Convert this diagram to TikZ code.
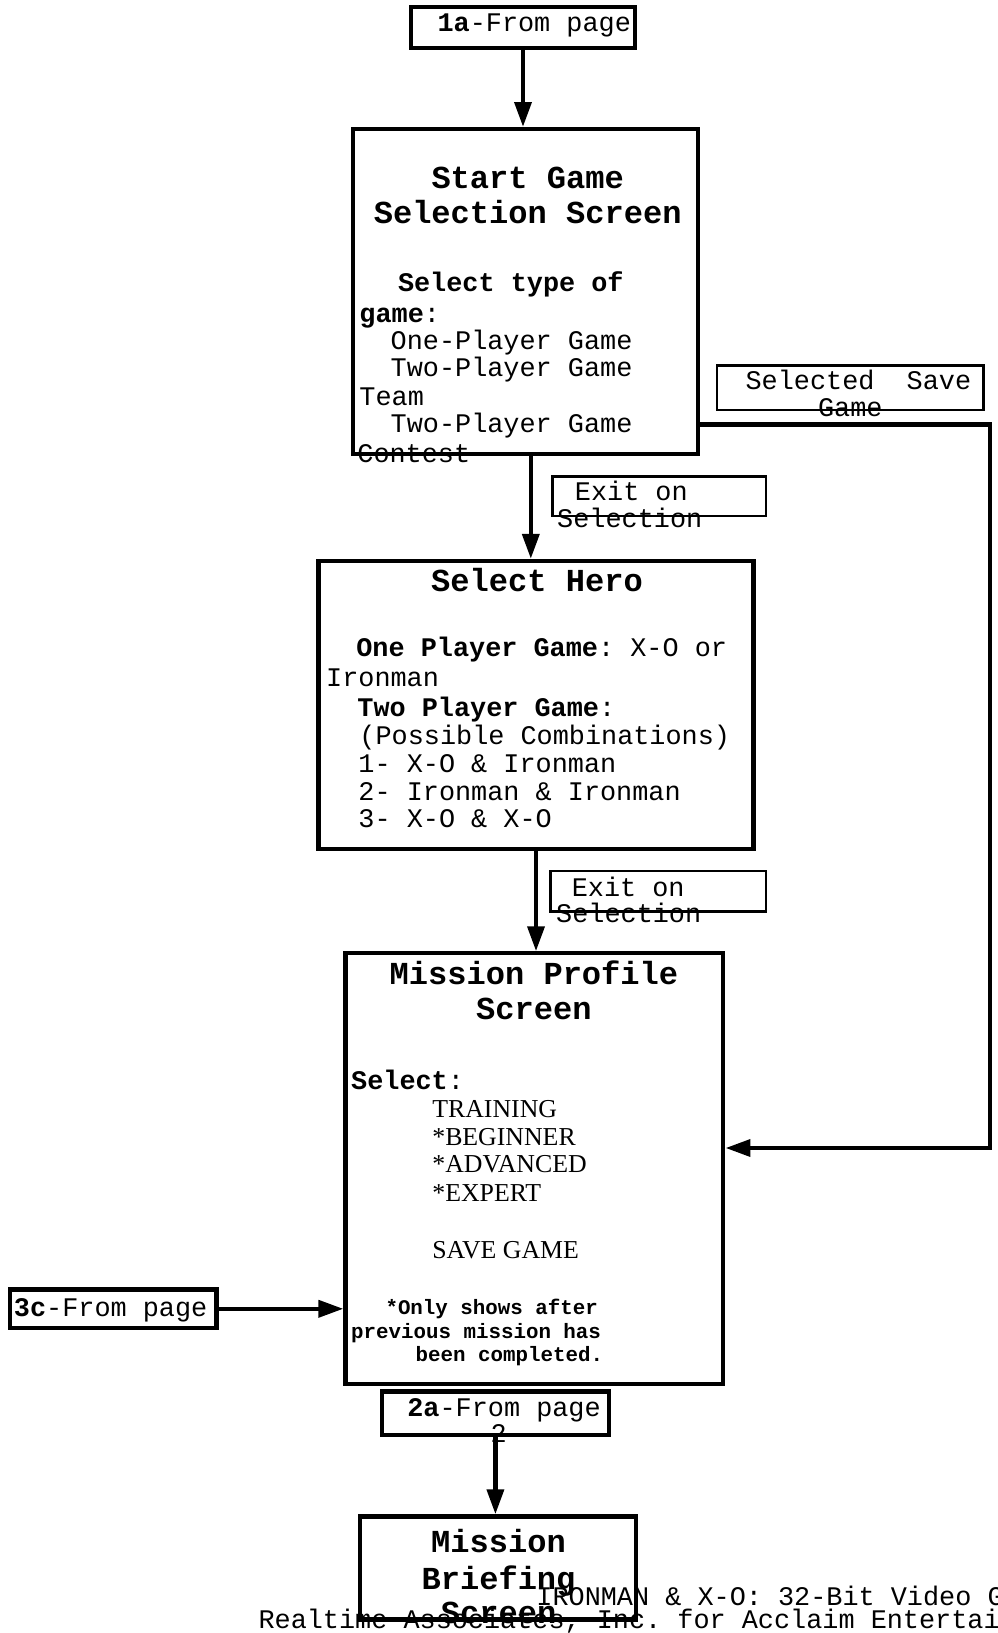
\documentclass[tikz,border=0pt]{standalone}
\usepackage{fontspec}
\setmainfont{Liberation Serif}
\setmonofont{Liberation Mono}
\usetikzlibrary{arrows.meta}
\usetikzlibrary{positioning}
\usetikzlibrary{fit}

\tikzset{
  screen/.style={draw, line width=2pt, anchor=center, inner sep=0pt},
  tag/.style={draw, line width=1.2pt, anchor=center, inner sep=0pt},
  body/.style={font=\fontsize{12.9}{13}\selectfont\ttfamily, inner sep=0pt},
  head/.style={font=\fontsize{15.4}{16}\selectfont\ttfamily\bfseries, inner sep=0pt, anchor=base},
  note/.style={font=\fontsize{10}{11}\selectfont\ttfamily\bfseries, inner sep=0pt},
  level/.style={font=\fontsize{12.4}{13}\selectfont\rmfamily, inner sep=0pt},
  flow/.style={line width=2.2pt, -{Triangle[length=12pt,width=8pt]}},
}

\begin{document}
\begin{tikzpicture}[x=0.5pt, y=-0.5pt, every node/.style={anchor=base west}]
\useasboundingbox (0,0) rectangle (958,1569);

% page links
\node[body] (a1) at (420,30) {\textbf{1a}-From page};
\node[body] (c1) at (13,1265) {\textbf{3c}-From page};
\node[body] (b1) at (391,1361) {\textbf{2a}-From page};
\node[body] (b2) at (471,1386) {2};

% start game
\node[head] (s1) at (507,181) {Start Game};
\node[head] (s2) at (507,215) {Selection Screen};
\node[body] (s3) at (382,280) {\textbf{Select type of}};
\node[body] (s4) at (345,310) {\textbf{game}:};
\node[body] (s5) at (375,336) {One-Player Game};
\node[body] (s6) at (375,362) {Two-Player Game};
\node[body] (s7) at (345,390) {Team};
\node[body] (s8) at (375,416) {Two-Player Game};
\node[body] (s9) at (343,444) {Contest};

\node[body] (v1) at (716,374) {Selected\ \ Save};
\node[body, anchor=base] (v2) at (817,400) {Game};

\node[body] (x1) at (552,481) {Exit on};
\node[body] (x2) at (535,507) {Selection};

% hero
\node[head] (h1) at (516,568) {Select Hero};
\node[body] (h2) at (342,631) {\textbf{One Player Game}: X-O or};
\node[body] (h3) at (313,660) {Ironman};
\node[body] (h4) at (343,688) {\textbf{Two Player Game}:};
\node[body] (h5) at (345,715) {(Possible Combinations)};
\node[body] (h6) at (344,742) {1- X-O \& Ironman};
\node[body] (h7) at (344,769) {2- Ironman \& Ironman};
\node[body] (h8) at (344,795) {3- X-O \& X-O};

\node[body] (y1) at (549,861) {Exit on};
\node[body] (y2) at (534,886) {Selection};

% mission profile
\node[head] (p1) at (513,946) {Mission Profile};
\node[head] (p2) at (513,980) {Screen};
\node[body] (p3) at (337,1047) {\textbf{Select}:};
\node[level] (p4) at (415,1074) {TRAINING};
\node[level] (p5) at (415,1101) {*BEGINNER};
\node[level] (p6) at (415,1127) {*ADVANCED};
\node[level] (p7) at (415,1154) {*EXPERT};
\node[level] (p8) at (415,1209) {SAVE GAME};
\node[note] (p9) at (370,1263) {*Only shows after};
\node[note] (p10) at (337,1286) {previous mission has};
\node[note] (p11) at (399,1308) {been completed.};

% briefing
\node[head] (m1) at (479,1492) {Mission};
\node[head] (m2) at (479,1527) {Briefing};
\node[head] (m3) at (479,1560) {Screen};

% footer
\node[body] (f1) at (515,1543) {IRONMAN \& X-O: 32-Bit Video G};
\node[body] (f2) at (248,1565) {Realtime Associates, Inc. for Acclaim Entertai};

% boxes
\node[screen, fit={(395,7) (610,46)}] (from1a) {};
\node[screen, fit={(339,124) (671,436)}] (startscr) {};
\node[tag, fit={(689,351) (945,394)}] (savebox) {};
\node[tag, fit={(531,458) (736,496)}] (exitA) {};
\node[screen, fit={(306,539) (724,816)}] (heroscr) {};
\node[tag, fit={(529,837) (736,876)}] (exitB) {};
\node[screen, fit={(332,916) (695,1330)}] (profilescr) {};
\node[screen, fit={(10,1239) (208,1276)}] (from3c) {};
\node[screen, fit={(367,1337) (585,1379)}] (from2a) {};
\node[screen, fit={(346,1457) (611,1556)}] (briefscr) {};

\coordinate (rtop) at (951,408);
\coordinate (rbot) at (951,1103);

\path[draw, flow] (from1a.south) -- (from1a.south |- startscr.north);
\path[draw, flow] ([xshift=2.5pt]startscr.south) -- ([xshift=2.5pt]startscr.south |- heroscr.north);
\path[draw, flow] (heroscr.south) -- (heroscr.south |- profilescr.north);
\path[draw, flow] (startscr.east |- rtop) -- (rtop) -- (rbot) -- (profilescr.east |- rbot);
\path[draw, flow] (from3c.east) -- (from3c.east -| profilescr.west);
\path[draw, flow] (from2a.south) -- (from2a.south |- briefscr.north);
\end{tikzpicture}
\end{document}
